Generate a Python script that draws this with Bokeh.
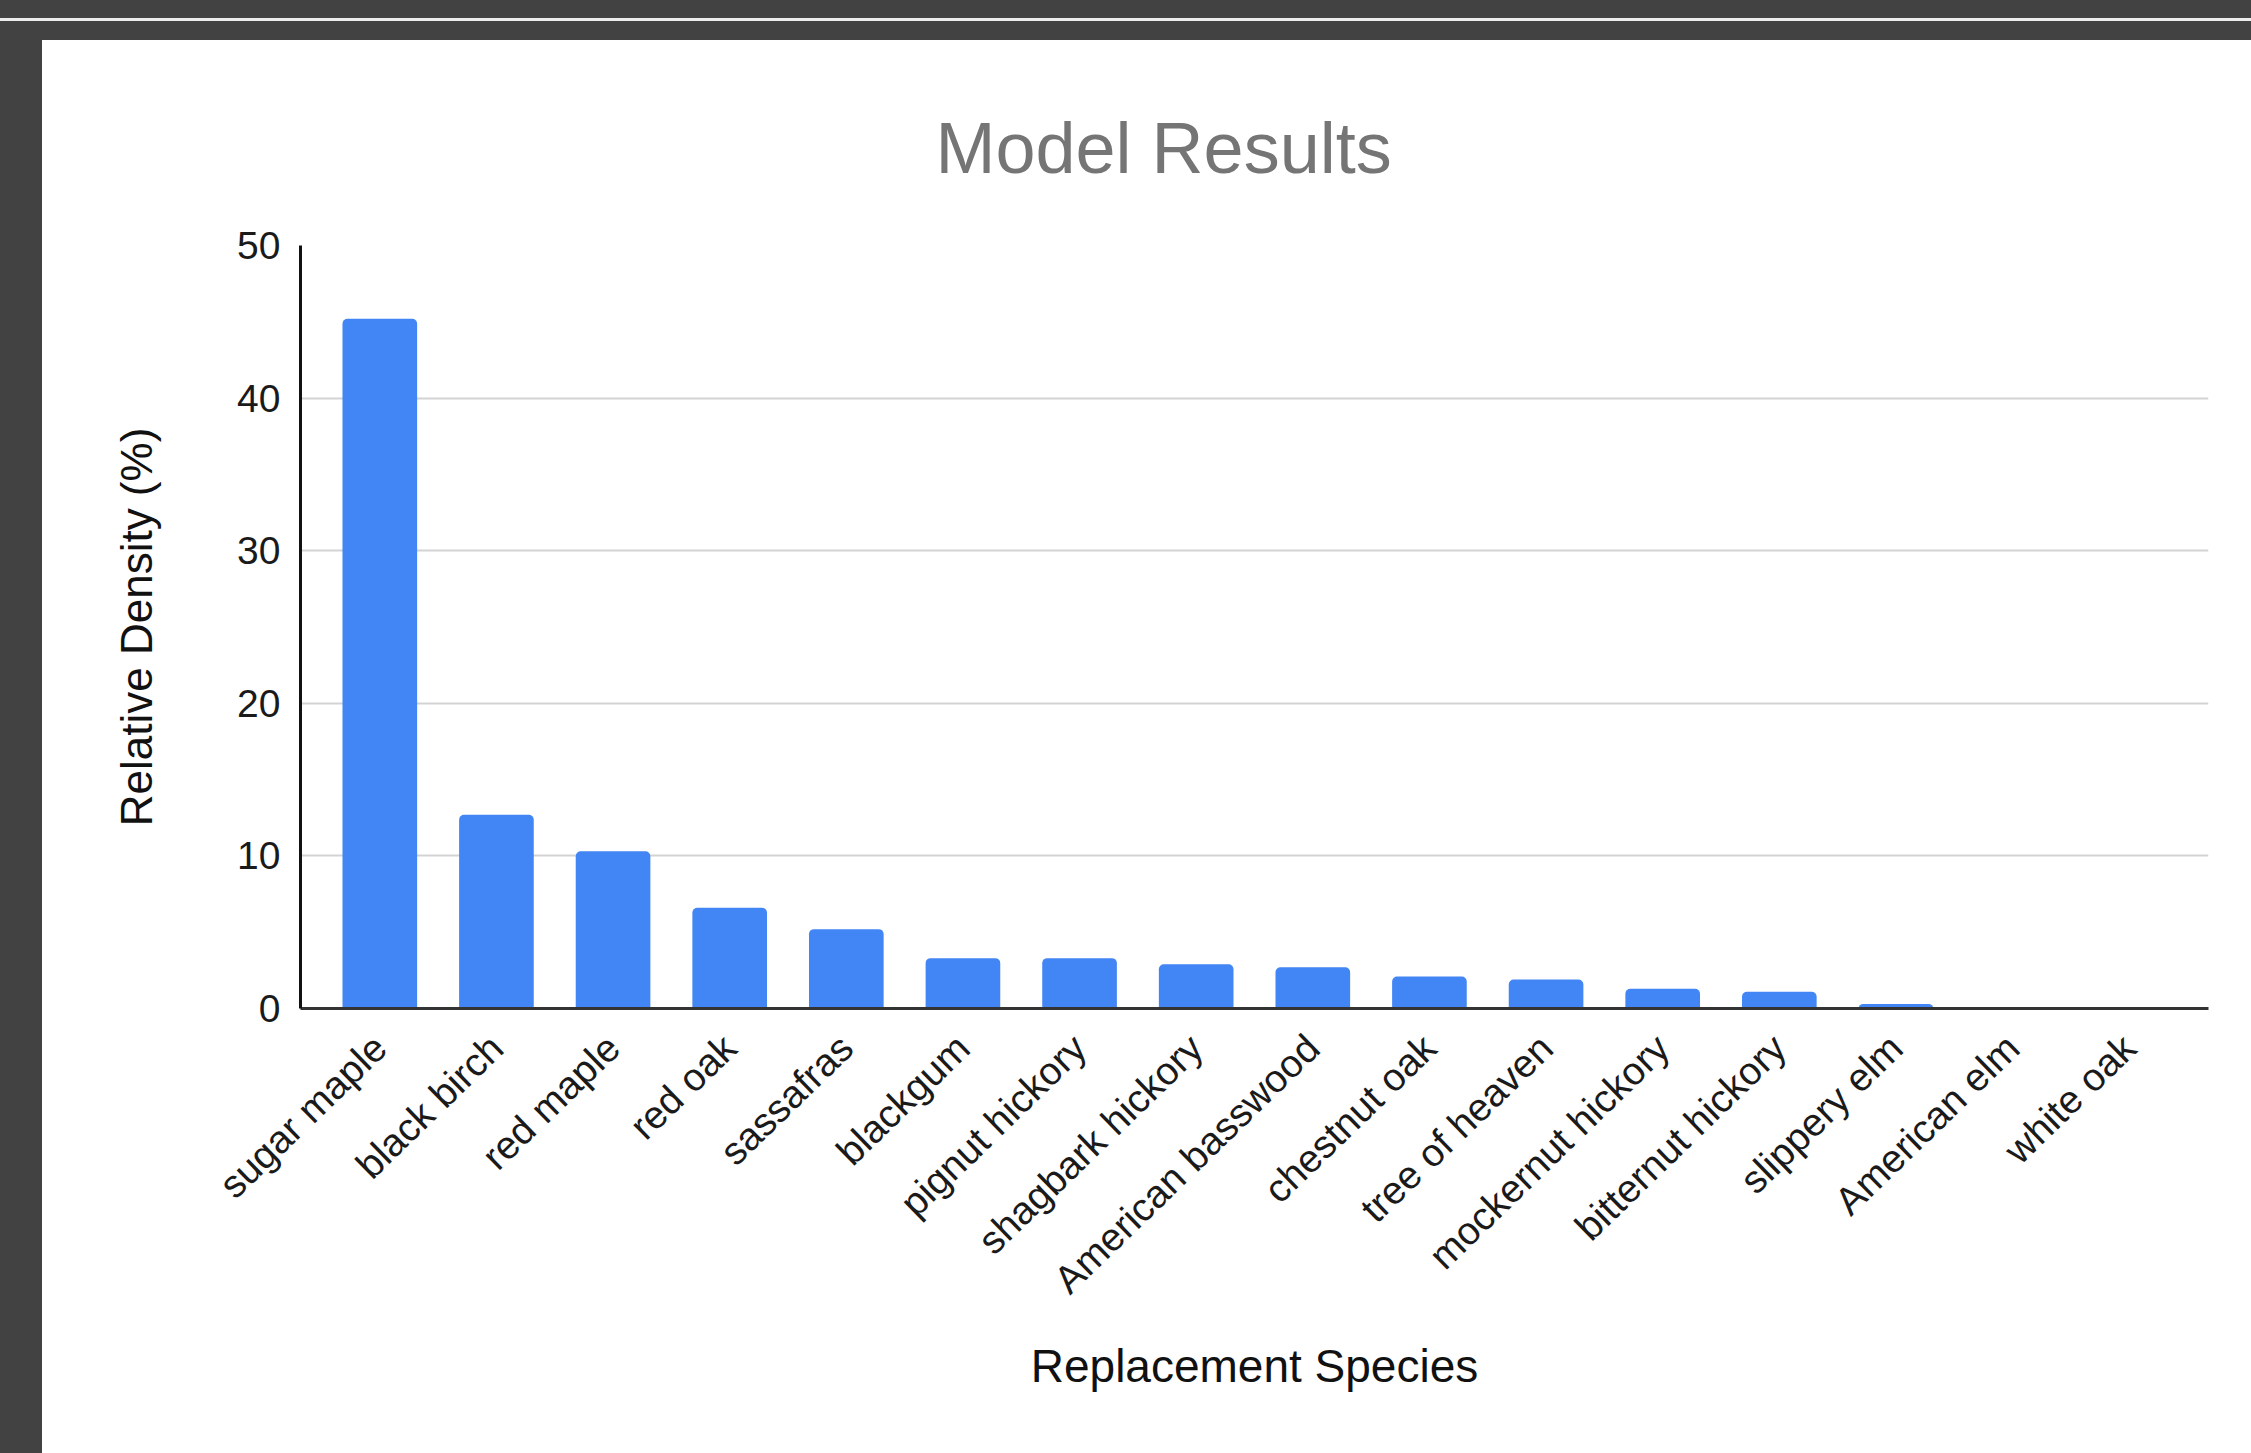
import math
from bokeh.plotting import figure
from bokeh.models import FactorRange, Range1d, FixedTicker, Title, Spacer, ColumnDataSource
from bokeh.layouts import column, row
from bokeh.embed import file_html
from bokeh.resources import INLINE

species = ["sugar maple", "black birch", "red maple", "red oak", "sassafras", "blackgum",
           "pignut hickory", "shagbark hickory", "American basswood", "chestnut oak",
           "tree of heaven", "mockernut hickory", "bitternut hickory", "slippery elm",
           "American elm", "white oak"]
density = [45.2, 12.7, 10.3, 6.6, 5.2, 3.3, 3.3, 2.9, 2.7, 2.1, 1.9, 1.3, 1.1, 0.3, 0.1, 0.0]
y_ticks = [0, 10, 20, 30, 40, 50]

FONT = "Liberation Sans"
DARK = "#424242"

source = ColumnDataSource(data=dict(species=species, density=density))

p = figure(
    x_range=FactorRange(factors=species, range_padding=0.18, range_padding_units="absolute"),
    y_range=Range1d(0, 50),
    width=2209, height=1413,
    output_backend="svg", toolbar_location=None,
    min_border_left=258, min_border_right=43, min_border_top=205, min_border_bottom=445,
)
p.title = Title(text="Model Results", align="left", offset=635, standoff=116,
                text_font=FONT, text_font_size="72px", text_font_style="normal",
                text_color="#757575")

p.vbar(x="species", top="density", width=0.64, source=source,
       fill_color="#4285f4", line_color=None, border_radius=(5, 5, 0, 0))

p.background_fill_color = "white"
p.border_fill_color = "white"
p.outline_line_color = None

p.xgrid.grid_line_color = None
p.ygrid.grid_line_color = "#d3d3d3"
p.ygrid.grid_line_width = 2
p.yaxis.ticker = FixedTicker(ticks=y_ticks)

for ax in (p.xaxis, p.yaxis):
    ax.major_tick_line_color = None
    ax.minor_tick_line_color = None
    ax.major_tick_out = 0
    ax.major_tick_in = 0
    ax.major_label_text_font = FONT
    ax.major_label_text_font_size = "39px"
    ax.major_label_text_color = "#1a1a1a"
    ax.axis_label_text_font = FONT
    ax.axis_label_text_font_style = "normal"
    ax.axis_label_text_color = "#111111"

p.xaxis.axis_label = "Replacement Species"
p.xaxis.axis_label_text_font_size = "46px"
p.xaxis.major_label_orientation = 0.77
p.xaxis.major_label_standoff = 33
p.xaxis.axis_label_standoff = 20
p.xaxis.axis_line_color = "#333333"
p.xaxis.axis_line_width = 3

p.yaxis.axis_label = "Relative Density (%)"
p.yaxis.axis_label_text_font_size = "44px"
p.yaxis.major_label_standoff = 20
p.yaxis.axis_label_standoff = 73
p.yaxis.axis_line_color = "#111111"
p.yaxis.axis_line_width = 3

page = column(
    Spacer(width=2251, height=18, styles={"background-color": DARK}),
    Spacer(width=2251, height=3, styles={"background-color": "#ececec"}),
    Spacer(width=2251, height=19, styles={"background-color": DARK}),
    row(Spacer(width=42, height=1413, styles={"background-color": DARK}), p),
)

open("out.html", "w").write(file_html(page, INLINE))
